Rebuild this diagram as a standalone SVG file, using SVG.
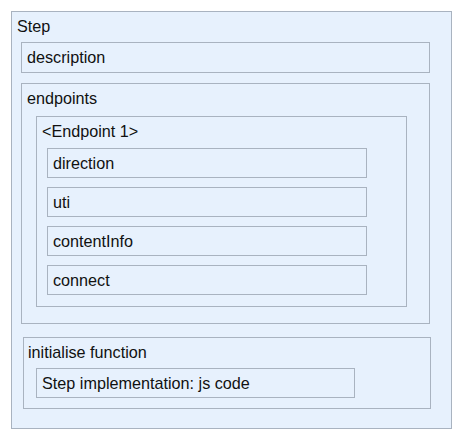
<svg xmlns="http://www.w3.org/2000/svg" width="463" height="439" viewBox="0 0 463 439">
<style>
rect{fill:#e7f1fd;stroke:#a9b3c0;stroke-width:1}
text{font-family:"Liberation Sans",Arial,sans-serif;font-size:16.2px;fill:#111}
</style>
<rect x="0" y="0" width="463" height="439" style="fill:#fff;stroke:none"/>
<g id="step">
<rect x="11.5" y="11.5" width="440" height="417"/>
<text x="17" y="32">Step</text>
</g>
<g id="description">
<rect x="21.5" y="42.5" width="408" height="30"/>
<text x="27" y="62.5">description</text>
</g>
<g id="endpoints">
<rect x="21.5" y="83.5" width="408" height="240"/>
<text x="27" y="104">endpoints</text>
</g>
<g id="endpoint1">
<rect x="36.5" y="116.5" width="370" height="190"/>
<text x="42" y="137">&lt;Endpoint 1&gt;</text>
</g>
<g id="direction">
<rect x="47.5" y="148.5" width="319" height="29"/>
<text x="53" y="168.5">direction</text>
</g>
<g id="uti">
<rect x="47.5" y="187.5" width="319" height="29"/>
<text x="53" y="207.5">uti</text>
</g>
<g id="contentInfo">
<rect x="47.5" y="226.5" width="319" height="29"/>
<text x="53" y="246.5">contentInfo</text>
</g>
<g id="connect">
<rect x="47.5" y="265.5" width="319" height="29"/>
<text x="53" y="285.5">connect</text>
</g>
<g id="initialise">
<rect x="23.5" y="337.5" width="407" height="71"/>
<text x="28" y="358">initialise function</text>
</g>
<g id="implementation">
<rect x="36.5" y="368.5" width="318" height="29"/>
<text x="42" y="388.5">Step implementation: js code</text>
</g>
<g id="connectors"></g>
</svg>
